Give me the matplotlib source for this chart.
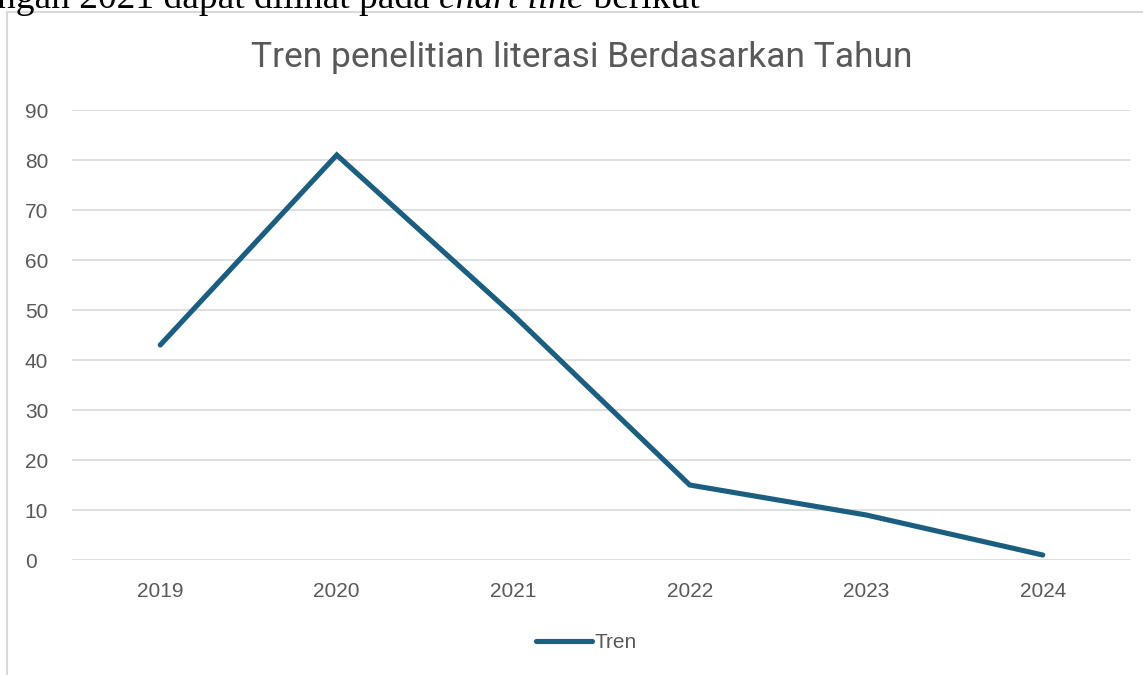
import matplotlib.pyplot as plt
from matplotlib.patches import Rectangle

# data
tahun = ['2019', '2020', '2021', '2022', '2023', '2024']
tren = [43, 81, 49, 15, 9, 1]
y_ticks = [0, 10, 20, 30, 40, 50, 60, 70, 80, 90]

line_color = '#1b5e80'
text_color = '#595959'
grid_color = '#d9d9d9'

fig = plt.figure(figsize=(11.43, 6.75), dpi=100)

# chart frame (document screenshot, cut at right/bottom)
fig.patches.append(Rectangle((7 / 1143, -0.05), 1.1, 1 - 12 / 675 + 0.05,
                             transform=fig.transFigure, fill=False,
                             edgecolor=grid_color, linewidth=1.5))

# document text cut off at the top
base_y = 1 - 8 / 675
t1 = fig.text(-3 / 1143, base_y, 'ngan 2021 dapat dilihat pada ',
              family='Liberation Serif', fontsize=27, color='black', va='baseline')
t2 = fig.text(0, 0, 'chart line', family='Liberation Serif', style='italic',
              fontsize=27, color='black', va='baseline')
t3 = fig.text(0, 0, ' berikut', family='Liberation Serif',
              fontsize=27, color='black', va='baseline')
fig.canvas.draw()
r = fig.canvas.get_renderer()
bb = t1.get_window_extent(r)
t2.set_position((bb.x1 / 1143, base_y))
bb = t2.get_window_extent(r)
t3.set_position((bb.x1 / 1143, base_y))

ax = fig.add_axes([72 / 1143, 1 - 560 / 675, (1131 - 72) / 1143, 450 / 675])
x = range(len(tahun))
ax.plot(x, tren, color=line_color, linewidth=3.7, solid_capstyle='round',
        solid_joinstyle='miter', label='Tren')

ax.set_xlim(-0.5, len(tahun) - 0.5)
ax.set_ylim(0, 90)
ax.set_xticks(list(x))
ax.set_xticklabels(tahun)
ax.set_yticks(y_ticks)
ax.grid(axis='y', color=grid_color, linewidth=1.2)
ax.set_axisbelow(True)
for s in ax.spines.values():
    s.set_visible(False)
ax.tick_params(length=0, labelsize=15, labelcolor=text_color, labelfontfamily='Liberation Sans')
ax.tick_params(axis='x', pad=16)
ax.tick_params(axis='y', pad=34)
for lbl in ax.get_yticklabels():
    lbl.set_horizontalalignment('left')

fig.text(582 / 1143, 1 - 57 / 675, 'Tren penelitian literasi Berdasarkan Tahun',
         ha='center', va='center', fontsize=25.5, color=text_color, family='Roboto')

fig.legend(loc='center', bbox_to_anchor=(586 / 1143, 1 - 643 / 675), frameon=False,
           handlelength=2.7, handletextpad=0.1,
           prop={'family': 'Liberation Sans', 'size': 15}, labelcolor=text_color)

fig.savefig('out.png', dpi=100)
